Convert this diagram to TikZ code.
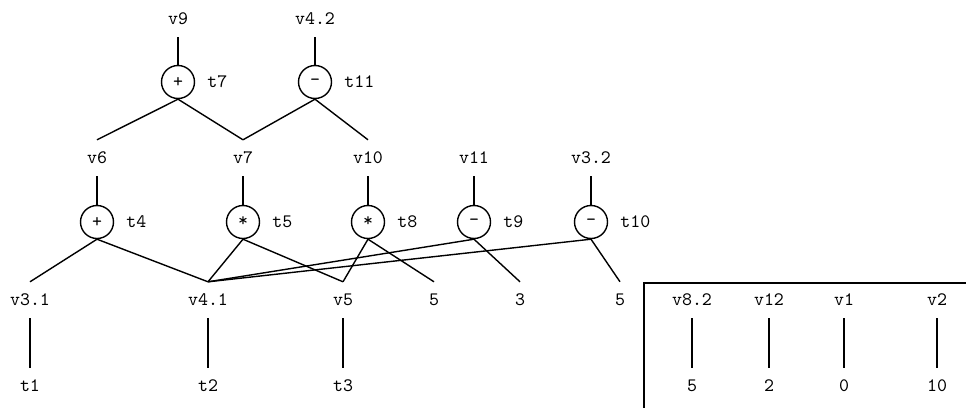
\documentclass[tikz,border=0pt]{standalone}
\usepackage{fontspec}
\newfontfamily\lmtt{lmmono10-regular}[Extension=.otf]
\usetikzlibrary{positioning}
\tikzset{
  fnt/.style={font=\lmtt\fontsize{19}{22}\selectfont},
  lbl/.style={fnt, inner sep=0pt, minimum height=36pt, text height=10pt, text depth=0pt},
  opc/.style={fnt, circle, draw, line width=1.4pt, minimum size=33pt, inner sep=0pt},
  tn/.style={fnt, inner sep=0pt, right=12pt of #1},
  conn/.style={line width=1.4pt},
}
\begin{document}
\begin{tikzpicture}[x=1pt,y=-1pt]
\clip (0,0) rectangle (966,407);
\fill[white] (0,0) rectangle (966,407);
% top row
\node[lbl] (v9) at (178,19) {v9};
\node[lbl] (v42) at (315,19) {v4.2};
\node[opc] (c7) at (178,82) {+};
\node[opc] (c11) at (315,82) {-};
\node[tn=c7] (t7) {t7};
\node[tn=c11] (t11) {t11};
% second row
\node[lbl] (v6) at (97,158) {v6};
\node[lbl] (v7) at (243,158) {v7};
\node[lbl] (v10) at (368,158) {v10};
\node[lbl] (v11) at (474,158) {v11};
\node[lbl] (v32) at (591,158) {v3.2};
\node[opc] (c4) at (97,222) {+};
\node[opc] (c5) at (243,222) {*};
\node[opc] (c8) at (368,222) {*};
\node[opc] (c9) at (474,222) {-};
\node[opc] (c10) at (591,222) {-};
\node[tn=c4] (t4) {t4};
\node[tn=c5] (t5) {t5};
\node[tn=c8] (t8) {t8};
\node[tn=c9] (t9) {t9};
\node[tn=c10] (t10) {t10};
% third row
\node[lbl] (v31) at (30,300) {v3.1};
\node[lbl] (v41) at (208,300) {v4.1};
\node[lbl] (v5) at (343,300) {v5};
\node[lbl] (n5a) at (434,300) {5};
\node[lbl] (n3) at (520,300) {3};
\node[lbl] (n5b) at (620,300) {5};
% bottom row
\node[lbl] (t1) at (30,386) {t1};
\node[lbl] (t2) at (208,386) {t2};
\node[lbl] (t3) at (343,386) {t3};
% box
\node[lbl] (v82) at (692,300) {v8.2};
\node[lbl] (v12) at (769,300) {v12};
\node[lbl] (v1) at (844,300) {v1};
\node[lbl] (v2) at (937,300) {v2};
\node[lbl] (k5) at (692,386) {5};
\node[lbl] (k2) at (769,386) {2};
\node[lbl] (k0) at (844,386) {0};
\node[lbl] (k10) at (937,386) {10};
\coordinate (boxtl) at (644,283);
\coordinate (boxbr) at (990,430);
\draw[conn] (boxtl) rectangle (boxbr);
% connectors
\draw[conn] (v9.south) -- (c7.north);
\draw[conn] (v42.south) -- (c11.north);
\draw[conn] (c7.south) -- (v6.north);
\draw[conn] (c7.south) -- (v7.north);
\draw[conn] (c11.south) -- (v7.north);
\draw[conn] (c11.south) -- (v10.north);
\foreach \a/\b in {v6/c4,v7/c5,v10/c8,v11/c9,v32/c10}
  \draw[conn] (\a.south) -- (\b.north);
\foreach \a/\b in {c4/v31,c4/v41,c5/v41,c5/v5,c8/v5,c8/n5a,c9/v41,c9/n3,c10/v41,c10/n5b}
  \draw[conn] (\a.south) -- (\b.north);
\foreach \a/\b in {v31/t1,v41/t2,v5/t3,v82/k5,v12/k2,v1/k0,v2/k10}
  \draw[conn] (\a.south) -- (\b.north);
\end{tikzpicture}
\end{document}
